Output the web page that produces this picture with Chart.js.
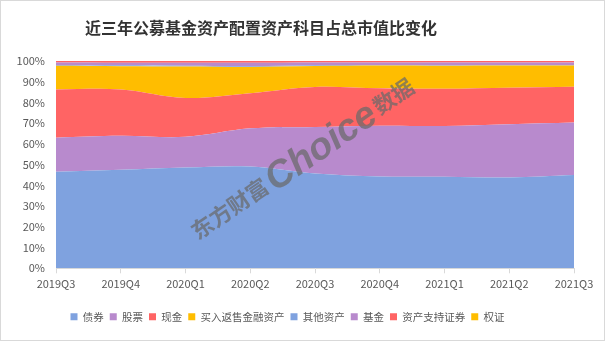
<!DOCTYPE html>
<html><head><meta charset="utf-8">
<script src="https://cdn.jsdelivr.net/npm/chart.js@4"></script>
<style>
html,body{margin:0;padding:0;background:#fff;}
#wrap{position:relative;width:605px;height:341px;box-sizing:border-box;border:1px solid #d9d9d9;}
canvas{display:block;}
</style></head>
<body><div id="wrap"><canvas id="c" width="603" height="339"></canvas></div>
<script>
const titleText = '近三年公募基金资产配置资产科目占总市值比变化';
const watermarkText = ['东方财富', 'Choice', '数据'];
const categories = ['2019Q3','2019Q4','2020Q1','2020Q2','2020Q3','2020Q4','2021Q1','2021Q2','2021Q3'];
const seriesNames = ['债券','股票','现金','买入返售金融资产','其他资产','基金','资产支持证券','权证'];
const bonds   = [46.6, 47.5, 48.6, 49.1, 45.7, 44.3, 44.2, 43.8, 45.0];
const stocks  = [16.4, 16.4, 14.8, 18.4, 22.5, 24.5, 24.5, 25.7, 25.3];
const cash    = [23.3, 22.4, 18.8, 17.0, 19.3, 18.0, 17.9, 17.6, 17.3];
const repo    = [11.4, 11.2, 15.1, 12.6, 10.1, 11.0, 11.1, 10.7, 10.2];
const other   = [0.4, 0.4, 0.4, 0.4, 0.4, 0.3, 0.3, 0.3, 0.3];
const funds   = [1.2, 1.3, 1.5, 1.6, 1.3, 1.2, 1.3, 1.2, 1.2];
const abs     = [0.7, 0.8, 0.8, 0.9, 0.7, 0.7, 0.7, 0.7, 0.7];
const warrants= [0, 0, 0, 0, 0, 0, 0, 0, 0];
const yTicks  = [0,10,20,30,40,50,60,70,80,90,100];

const colors = ['#7fa2df','#b88acd','#ff6464','#ffbd00','#7fa2df','#b88acd','#ff6464','#ffbd00'];
const values = [bonds, stocks, cash, repo, other, funds, abs, warrants];

const datasets = seriesNames.map((n,i)=>({
  label:n, data:values[i], backgroundColor:colors[i], borderColor:colors[i],
  borderWidth:0, pointRadius:0, tension:0.35, fill: i===0 ? 'origin' : '-1'
}));

const FONT = '"Noto Sans CJK SC", "Noto Sans", sans-serif';

const extras = {
  id:'extras',
  afterDraw(chart){
    const ctx = chart.ctx;
    ctx.save();
    // title
    ctx.fillStyle = '#333';
    ctx.font = 'bold 16px ' + FONT;
    ctx.textAlign = 'center';
    ctx.textBaseline = 'middle';
    ctx.fillText(titleText, 260, 27);
    // watermark
    ctx.translate(301, 157);
    ctx.rotate(-34.5*Math.PI/180);
    ctx.fillStyle = 'rgba(105,105,105,0.72)';
    ctx.textBaseline = 'alphabetic';
    ctx.textAlign = 'left';
    const f1 = 'bold 22px ' + FONT, f2 = 'italic bold 38px "Liberation Sans", sans-serif';
    ctx.font = f1; const w1 = ctx.measureText(watermarkText[0]).width;
    ctx.font = f2; const w2 = ctx.measureText(watermarkText[1]).width;
    ctx.font = f1; const w3 = ctx.measureText(watermarkText[2]).width;
    let x = -(w1+w2+w3+6)/2;
    ctx.font = f1; ctx.fillText(watermarkText[0], x, 9); x += w1+3;
    ctx.font = f2; ctx.fillText(watermarkText[1], x, 13); x += w2+3;
    ctx.font = f1; ctx.fillText(watermarkText[2], x, 9);
    ctx.restore();
  }
};

new Chart(document.getElementById('c'), {
  type:'line',
  data:{labels:categories, datasets},
  plugins:[extras],
  options:{
    responsive:false, animation:false,
    layout:{padding:{top:60, right:30, left:0, bottom:8}},
    plugins:{
      title:{display:false},
      tooltip:{enabled:false},
      legend:{
        position:'bottom',
        labels:{usePointStyle:true, pointStyle:'rect', boxWidth:7, boxHeight:7, padding:6,
          color:'#595959', font:{size:10.5, family:FONT}}
      }
    },
    scales:{
      x:{
        afterFit(s){ s.height += 11; },
        grid:{display:true, drawOnChartArea:false, drawTicks:true, tickLength:5, color:'#d9d9d9'},
        border:{color:'#d9d9d9'},
        offset:false,
        ticks:{color:'#595959', font:{size:11, family:FONT}, padding:4, maxRotation:0, autoSkip:false}
      },
      y:{
        stacked:true, min:0, max:100,
        afterFit(s){ s.width = 55; },
        afterBuildTicks(s){ s.ticks = yTicks.map(v=>({value:v})); },
        grid:{display:false},
        border:{display:false},
        ticks:{color:'#595959', font:{size:11, family:FONT}, padding:3, callback:v=>v+'%'}
      }
    }
  }
});
</script></body></html>
